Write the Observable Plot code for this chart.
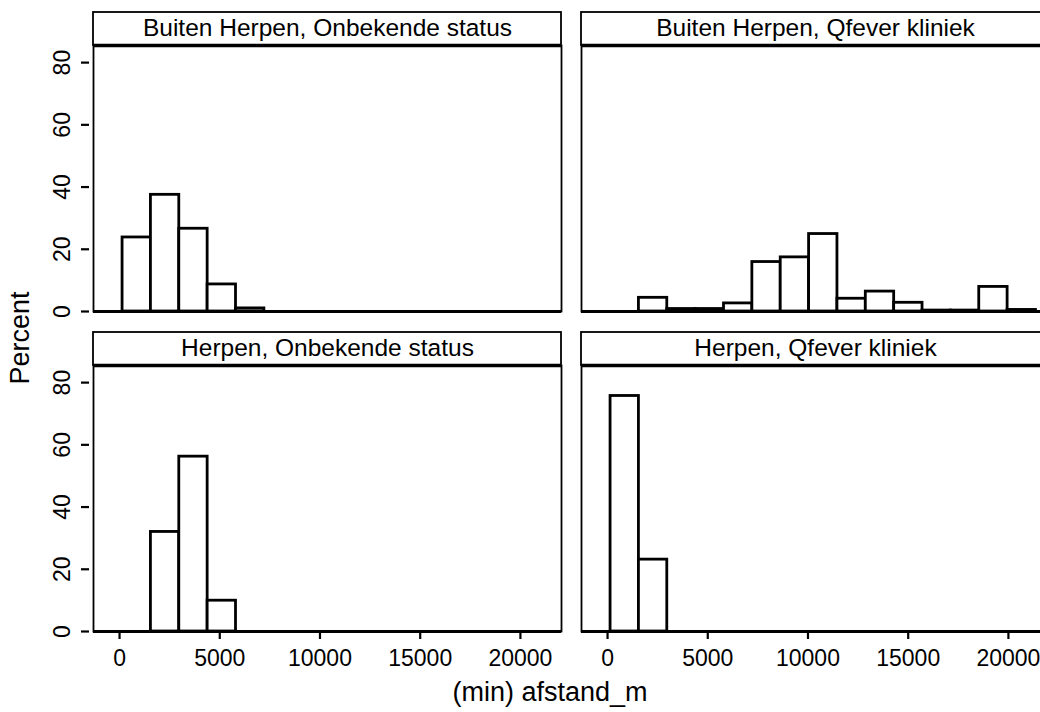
<!DOCTYPE html>
<html><head><meta charset="utf-8">
<script src="https://cdn.jsdelivr.net/npm/d3@7"></script>
<script src="https://cdn.jsdelivr.net/npm/@observablehq/plot@0.6"></script>
<style>
html,body{margin:0;padding:0;background:#fff;overflow:hidden;}
#chart{width:1040px;height:712px;overflow:hidden;}
#chart svg{max-width:none !important;}
</style>
</head><body><div id="chart"></div>
<script>
const rowNames = ["Buiten Herpen", "Herpen"];
const colNames = ["Onbekende status", "Qfever kliniek"];
const binEdges = [150, 1565, 2980, 4395, 5810, 7225, 8640, 10055, 11470, 12885, 14300, 15715, 17130, 18545, 19960, 21375];
const pctBuitenOnbekende = [23.8, 37.5, 26.6, 8.7, 1.0];
const pctBuitenQfever = [0, 4.4, 0.8, 0.8, 2.6, 15.9, 17.4, 24.9, 4.1, 6.4, 2.8, 0.3, 0.3, 7.9, 0.5];
const pctHerpenOnbekende = [0, 32.0, 56.2, 9.9];
const pctHerpenQfever = [75.7, 23.1];
const xTicks = [0, 5000, 10000, 15000, 20000];
const yTicks = [0, 20, 40, 60, 80];
const xDomain = [-1300, 22050];
const yDomain = [0, 85.5];
const xTitle = "(min) afstand_m";
const yTitle = "Percent";

const panels = [
  {row: rowNames[0], col: colNames[0], values: pctBuitenOnbekende},
  {row: rowNames[0], col: colNames[1], values: pctBuitenQfever},
  {row: rowNames[1], col: colNames[0], values: pctHerpenOnbekende},
  {row: rowNames[1], col: colNames[1], values: pctHerpenQfever}
].map(p => ({...p, title: `${p.row}, ${p.col}`}));

const bars = panels.flatMap(p => p.values.map((v, i) => ({
  row: p.row, col: p.col, x1: binEdges[i], x2: binEdges[i + 1], pct: v
}))).filter(d => d.pct > 0);

const font = "'Liberation Sans', Arial, Helvetica, sans-serif";

const chart = Plot.plot({
  width: 1060, height: 712,
  marginTop: 45, marginBottom: 80, marginLeft: 93, marginRight: 11,
  style: {fontFamily: font, fontSize: "23px", color: "black", background: "white", maxWidth: "none"},
  x: {domain: xDomain},
  y: {domain: yDomain},
  fx: {domain: colNames, axis: null, paddingInner: 0.041, paddingOuter: 0},
  fy: {domain: rowNames, axis: null, paddingInner: 0.1685, paddingOuter: 0},
  marks: [
    Plot.frame({stroke: "black", strokeWidth: 1.8}),
    Plot.rectY(bars, {fx: "col", fy: "row", x1: "x1", x2: "x2", y: "pct",
      fill: "white", stroke: "black", strokeWidth: 2.8}),
    Plot.ruleY([0], {stroke: "black", strokeWidth: 3.2}),
    Plot.rect(panels, {fx: "col", fy: "row", x1: () => xDomain[0], x2: () => xDomain[1],
      y1: () => yDomain[1], y2: () => yDomain[1], insetTop: -33,
      fill: "white", stroke: "black", strokeWidth: 1.8}),
    Plot.ruleY([yDomain[1]], {stroke: "black", strokeWidth: 3.5}),
    Plot.text(panels, {fx: "col", fy: "row", text: "title", frameAnchor: "top", lineAnchor: "middle",
      dy: -17, fontSize: 24.5, fill: "black"}),
    Plot.axisX({ticks: xTicks, tickFormat: d => String(d), tickSize: 8, tickPadding: 10,
      strokeWidth: 2.2, fontSize: 23, label: null, facetAnchor: "bottom"}),
    Plot.axisY({ticks: yTicks, tickSize: 8, tickPadding: 12, tickRotate: -90, dx: -4,
      strokeWidth: 2.2, fontSize: 23, label: null, facetAnchor: "left"})
  ]
});
chart.style.maxWidth = "none";

const svg = d3.select(chart);
svg.append("text")
  .attr("x", 550).attr("y", 701)
  .attr("text-anchor", "middle")
  .attr("font-size", 27).attr("font-family", font).attr("fill", "black")
  .text(xTitle);
svg.append("text")
  .attr("transform", "translate(29,338) rotate(-90)")
  .attr("text-anchor", "middle")
  .attr("font-size", 27).attr("font-family", font).attr("fill", "black")
  .text(yTitle);

document.getElementById("chart").appendChild(chart);
</script>
</body></html>
